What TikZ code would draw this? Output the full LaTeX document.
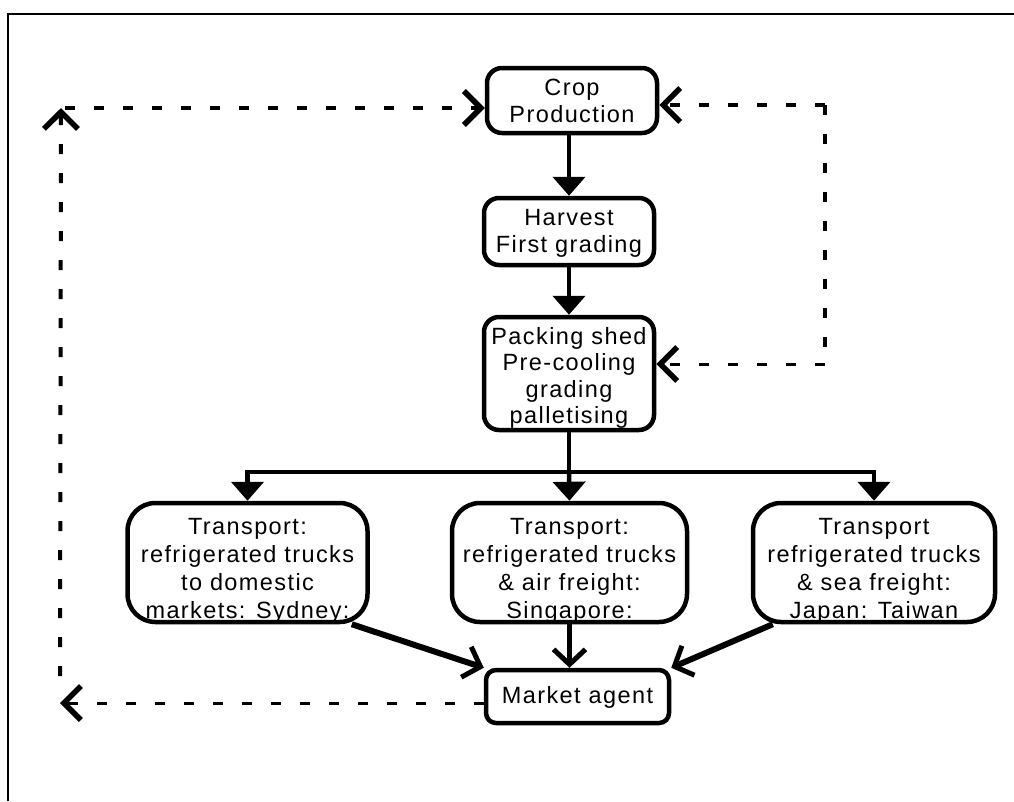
\documentclass[tikz,border=0pt]{standalone}
\usepackage{fontspec}
\setmainfont{Liberation Sans}
\newfontfamily\bx[LetterSpace=6]{Liberation Sans}
\usetikzlibrary{arrows.meta}
\begin{document}
\begin{tikzpicture}[x=1pt,y=-1pt,
  box/.style={draw, line width=4.5pt, fill=white, inner sep=0pt, rounded corners=15pt},
  bigbox/.style={box, rounded corners=28pt, minimum width=240pt, minimum height=119pt},
  txt/.style={font=\bx\fontsize{23.5}{27}\selectfont, inner sep=0pt, anchor=base},
  bigtxt/.style={txt, font=\bx\fontsize{23.5}{28}\selectfont},
  packtxt/.style={txt, font=\bx\fontsize{23.5}{26.5}\selectfont},
  flow/.style={line width=4.5pt, -{Triangle[width=32pt,length=19pt]}},
  agentarrow/.style={line width=6pt, -{Straight Barb[length=15pt,width=32pt,line width=5pt]}},
  loopline/.style={line width=4pt, dash pattern=on 10pt off 19pt},
  loophead/.style={-{Straight Barb[length=17pt,width=34pt,line width=5.5pt]}},
]
\useasboundingbox (0,0) rectangle (1014,801);
% frame
\draw[line width=2.5pt] (8,801) -- (8,14) -- (1014,14);

% boxes
\node[box, minimum width=170pt, minimum height=65pt,
  path picture={\node[txt] (cropT) at ([yshift=-27pt]path picture bounding box.north)
    {\begin{tabular}[t]{@{}c@{}}Crop\\Production\end{tabular}};}]
  (crop) at (572,100.5) {};
\node[box, minimum width=170pt, minimum height=67pt,
  path picture={\node[txt] (harvT) at ([yshift=-27pt]path picture bounding box.north)
    {\begin{tabular}[t]{@{}c@{}}Harvest\\First grading\end{tabular}};}]
  (harv) at (569,231.5) {};
\node[box, minimum width=170pt, minimum height=113pt,
  path picture={\node[packtxt] (packT) at ([yshift=-27pt]path picture bounding box.north)
    {\begin{tabular}[t]{@{}c@{}}Packing shed\\Pre-cooling\\grading\\palletising\end{tabular}};}]
  (pack) at (569,373.5) {};
\node[bigbox,
  path picture={\node[bigtxt] (tlT) at ([yshift=-31pt]path picture bounding box.north)
    {\begin{tabular}[t]{@{}c@{}}Transport:\\refrigerated trucks\\to domestic\\markets: Sydney:\end{tabular}};}]
  (tl) at (247.5,562.5) {};
\node[bigbox, minimum width=235pt,
  path picture={\node[bigtxt] (tmT) at ([yshift=-31pt]path picture bounding box.north)
    {\begin{tabular}[t]{@{}c@{}}Transport:\\refrigerated trucks\\\& air freight:\\Singapore:\end{tabular}};}]
  (tm) at (569.5,562.5) {};
\node[bigbox, minimum width=242pt,
  path picture={\node[bigtxt] (trT) at ([yshift=-31pt]path picture bounding box.north)
    {\begin{tabular}[t]{@{}c@{}}Transport\\refrigerated trucks\\\& sea freight:\\Japan: Taiwan\end{tabular}};}]
  (tr) at (874,562.5) {};
\node[box, rounded corners=10pt, minimum width=183pt, minimum height=53pt,
  path picture={\node[txt] (mktT) at ([yshift=-33pt]path picture bounding box.north) {Market agent};}]
  (mkt) at (577.5,696.5) {};

% main flow
\coordinate (bus) at (569,472);
\draw[flow] (harv.north |- crop.south) -- (harv.north);
\draw[flow] (harv.south) -- (pack.north);
\draw[line width=4.5pt] (pack.south) -- (bus);
\draw[flow] (bus) -| (tl.north);
\draw[flow] (bus) -| (tr.north);
\draw[flow] (bus) -- (tm.north);

% to market agent
\draw[agentarrow] ([xshift=-18pt]tl.south east) -- (mkt.north west);
\draw[agentarrow] ([xshift=22pt]tr.south west) -- (mkt.north east);
\draw[agentarrow, line width=4.5pt] (tm.south) -- (mkt.north -| tm.south);

% feedback loops
\coordinate (lb) at (60,703);
\coordinate (lv) at (60,676);
\coordinate (lt) at (61,108);
\coordinate (rt) at (825,105);
\coordinate (rb) at (825,364);
\draw[loopline, line width=3pt, loophead] (lb -| mkt.west) -- (lb);
\draw[loopline, loophead] (lv) -- (lt);
\draw[loopline, line width=4.5pt, loophead] ([xshift=4pt]lt) -- (lt -| crop.west);
\draw[loopline, loophead] (rt) -- (rt -| crop.east);
\draw[loopline] (rt) -- (rb);
\draw[loopline, line width=3pt, loophead] (rb) -- (rb -| pack.east);
\end{tikzpicture}
\end{document}
